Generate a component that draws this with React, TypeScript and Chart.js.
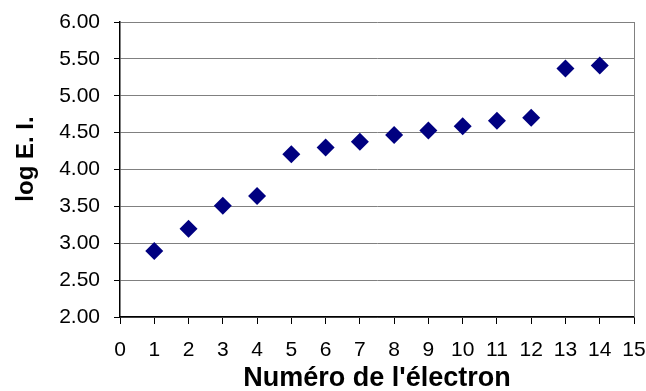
import React, { useEffect, useRef } from "react";
import { Chart, registerables } from "chart.js";

Chart.register(...registerables);

const electronNumbers = [1, 2, 3, 4, 5, 6, 7, 8, 9, 10, 11, 12, 13, 14];
const logEI = [2.896, 3.198, 3.509, 3.639, 4.207, 4.297, 4.376, 4.467, 4.53, 4.588, 4.662, 4.703, 5.371, 5.411];
const xTitle = "Numéro de l'électron";
const yTitle = "log E. I.";

const FONT = "'Liberation Sans', Arial, sans-serif";

const decorations = {
  id: "decorations",
  afterDraw(chart: any) {
    const { ctx, chartArea } = chart;
    ctx.save();
    ctx.strokeStyle = "#808080";
    ctx.lineWidth = 1;
    ctx.beginPath();
    ctx.moveTo(Math.round(chartArea.right) + 0.5, chartArea.top);
    ctx.lineTo(Math.round(chartArea.right) + 0.5, chartArea.bottom);
    ctx.stroke();
    // y-axis title, placed like the original (slightly above the plot's centre)
    ctx.translate(26, 159);
    ctx.rotate(-Math.PI / 2);
    ctx.fillStyle = "#000";
    ctx.font = `bold 24px ${FONT}`;
    ctx.textAlign = "center";
    ctx.textBaseline = "middle";
    ctx.fillText(yTitle, 0, 0);
    ctx.restore();
  },
};

export default function App() {
  const ref = useRef<HTMLCanvasElement>(null);
  useEffect(() => {
    document.body.style.margin = "0";
    const chart = new Chart(ref.current!, {
      type: "scatter",
      data: {
        datasets: [
          {
            data: electronNumbers.map((x, i) => ({ x, y: logEI[i] })),
            pointStyle: "rectRot",
            radius: 9,
            hoverRadius: 9,
            backgroundColor: "#000080",
            borderColor: "#000080",
            borderWidth: 0,
          },
        ],
      },
      options: {
        animation: false,
        responsive: false,
        maintainAspectRatio: false,
        plugins: { legend: { display: false }, tooltip: { enabled: false } },
        layout: { padding: { top: 22, right: 12, left: 0, bottom: 0 } },
        scales: {
          x: {
            type: "linear",
            min: 0,
            max: 15,
            ticks: { stepSize: 1, color: "#000", font: { family: FONT, size: 21 }, padding: 14, maxRotation: 0, autoSkip: false },
            grid: { drawOnChartArea: false, drawTicks: true, tickLength: 7, color: "#000" },
            border: { color: "#000", width: 1.5 },
            title: { display: true, text: xTitle, color: "#000", font: { family: FONT, size: 27, weight: "bold", lineHeight: 0.95 }, padding: 0 },
            afterFit(scale: any) {
              scale.height = 391 - 317;
              scale.paddingLeft = 0;
              scale.paddingRight = 0;
            },
          },
          y: {
            type: "linear",
            min: 2,
            max: 6,
            ticks: { stepSize: 0.5, color: "#000", font: { family: FONT, size: 21 }, padding: 14, callback: (v: any) => Number(v).toFixed(2) },
            grid: { color: "#808080", tickLength: 6, tickColor: "#000" },
            border: { color: "#000", width: 1.5 },
            title: { display: false },
            afterFit(scale: any) {
              scale.width = 120;
              scale.paddingTop = 0;
              scale.paddingBottom = 0;
            },
          },
        },
      },
      plugins: [decorations],
    });
    return () => chart.destroy();
  }, []);
  return (
    <div style={{ width: 646, height: 391 }}>
      <canvas ref={ref} width={646} height={391} style={{ display: "block" }} />
    </div>
  );
}
